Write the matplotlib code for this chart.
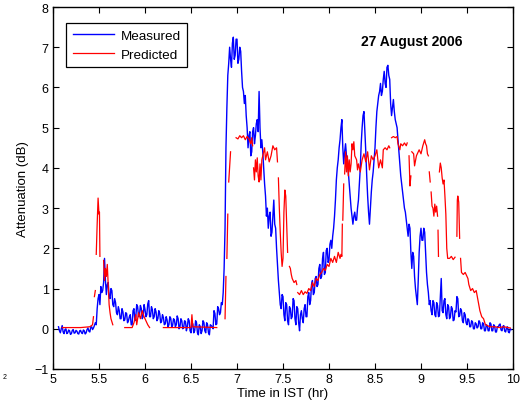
import numpy as np
import matplotlib
matplotlib.use('Agg')
from matplotlib import pyplot as plt

# measured attenuation (dB), sampled every 0.01 hr starting at 5.06 hr
t_start = 5.06
t_step = 0.01
measured = [
    0.05, -0.05, -0.1, 0.0, 0.08, -0.08, -0.12, -0.02, 0.0, -0.12, -0.1, -0.03, -0.05, -0.14, -0.12, -0.04, -0.02, -0.11, -0.1, -0.04,   # 5.06
    -0.06, -0.12, -0.13, -0.05, -0.04, -0.1, -0.12, -0.03, -0.05, -0.13, -0.1, -0.02, 0.02, -0.06, -0.08, 0.03, 0.05, -0.02, 0.02, 0.08,  # 5.26
    0.15, 0.1, 0.5, 0.75, 0.85, 0.6, 1.05, 0.9, 0.95, 1.15, 1.75, 1.2, 0.85, 1.1, 1.15, 0.8, 0.75, 1.0, 0.95, 0.6,                       # 5.46
    0.55, 0.75, 0.65, 0.4, 0.35, 0.55, 0.45, 0.25, 0.25, 0.5, 0.42, 0.2, 0.22, 0.4, 0.38, 0.15, 0.2, 0.3, 0.35, 0.1,                     # 5.66
    0.1, 0.45, 0.5, 0.2, 0.3, 0.6, 0.55, 0.3, 0.35, 0.58, 0.5, 0.25, 0.3, 0.6, 0.48, 0.3, 0.35, 0.62, 0.7, 0.3,                          # 5.86
    0.3, 0.55, 0.48, 0.25, 0.3, 0.5, 0.42, 0.2, 0.25, 0.45, 0.38, 0.15, 0.18, 0.35, 0.28, 0.1, 0.12, 0.3, 0.22, 0.05,                   # 6.06
    0.1, 0.3, 0.26, 0.05, 0.08, 0.25, 0.22, 0.05, 0.1, 0.32, 0.25, 0.0, 0.05, 0.25, 0.2, 0.0, 0.02, 0.2, 0.18, -0.05,                   # 6.26
    0.05, 0.25, 0.2, -0.05, -0.1, 0.15, 0.12, -0.1, -0.05, 0.2, 0.15, -0.1, -0.15, 0.1, 0.06, -0.12, -0.05, 0.2, 0.16, -0.05,           # 6.46
    -0.1, 0.15, 0.1, -0.1, -0.15, 0.1, 0.08, 0.05, 0.0, 0.45, 0.38, 0.1, 0.12, 0.55, 0.5, 0.35, 0.4, 0.65, 0.6, 0.9,                    # 6.66
    1.5, 2.5, 4.5, 5.5, 6.3, 6.6, 7.0, 6.7, 6.5, 7.1, 7.25, 6.7, 6.8, 7.2, 7.2, 6.6, 6.7, 7.0, 6.9, 6.4,                               # 6.86
    6.0, 5.9, 5.6, 5.8, 5.3, 5.0, 4.5, 4.8, 4.9, 4.3, 4.4, 4.9, 5.0, 4.6, 4.8, 5.1, 5.2, 4.9, 5.9, 5.0,                                # 7.06
    4.5, 4.7, 4.4, 4.0, 3.6, 3.3, 2.8, 3.0, 2.5, 2.8, 2.9, 2.3, 2.4, 2.8, 3.2, 2.6, 2.5, 2.0, 1.6, 1.2,                                # 7.26
    0.9, 0.6, 0.5, 0.85, 0.8, 0.35, 0.2, 0.65, 0.6, 0.2, 0.1, 0.55, 0.5, 0.25, 0.3, 0.75, 0.7, 0.25, 0.1, 0.55,                        # 7.46
    0.5, 0.15, -0.05, 0.35, 0.45, 0.25, 0.15, 0.5, 0.6, 0.3, 0.3, 0.8, 0.9, 0.6, 0.7, 1.1, 1.2, 0.85, 0.9, 1.25,                       # 7.66
    1.3, 1.05, 1.1, 1.5, 1.6, 1.25, 1.3, 1.75, 1.9, 1.35, 1.4, 1.95, 2.0, 1.65, 1.7, 2.1, 2.2, 2.0, 2.3, 2.5,                          # 7.86
    2.8, 3.2, 3.7, 4.0, 4.2, 4.5, 4.7, 5.0, 5.2, 4.5, 4.1, 4.4, 4.6, 4.3, 4.2, 3.9, 3.6, 3.3, 3.0, 2.8,                                # 8.06
    2.6, 2.8, 2.9, 2.7, 2.7, 3.0, 3.2, 3.6, 4.0, 4.6, 5.0, 5.3, 5.4, 4.9, 4.4, 3.8, 3.3, 2.9, 2.6, 3.0,                                # 8.26
    3.4, 3.7, 3.9, 4.2, 4.5, 5.0, 5.4, 5.6, 5.8, 5.9, 6.1, 5.8, 5.9, 6.2, 6.4, 6.1, 6.0, 6.5, 6.55, 6.3,                               # 8.46
    6.2, 5.6, 5.3, 5.5, 5.7, 5.4, 5.2, 5.1, 5.0, 4.7, 4.4, 4.1, 3.8, 3.6, 3.4, 3.2, 3.0, 2.9, 2.7, 2.5,                                # 8.66
    2.3, 2.6, 2.5, 1.9, 1.5, 1.9, 1.8, 1.3, 1.0, 0.8, 0.6, 1.2, 1.9, 2.3, 2.5, 2.2, 2.2, 2.5, 2.4, 1.9,                                # 8.86
    1.4, 1.1, 0.9, 0.6, 0.7, 0.45, 0.35, 0.7, 0.65, 0.35, 0.3, 0.65, 0.58, 0.3, 0.32, 0.8, 1.25, 0.45, 0.4, 0.7,                       # 9.06
    0.75, 0.35, 0.25, 0.6, 0.55, 0.25, 0.3, 0.55, 0.5, 0.2, 0.22, 0.45, 0.42, 0.8, 0.75, 0.3, 0.32, 0.5, 0.45, 0.2,                    # 9.26
    0.15, 0.4, 0.35, 0.15, 0.1, 0.25, 0.22, 0.05, 0.05, 0.2, 0.17, 0.0, 0.0, 0.15, 0.12, 0.02, 0.05, 0.2, 0.16, 0.0,                    # 9.46
    0.0, 0.15, 0.12, -0.05, -0.05, 0.1, 0.08, -0.05, -0.05, 0.15, 0.12, -0.05, -0.05, 0.1, 0.07, -0.08, -0.08, 0.05, 0.04, 0.1,        # 9.66
    0.12, -0.03, -0.05, 0.06, 0.08, -0.06, -0.08, 0.03, 0.05, -0.08, -0.1, 0.0, -0.02,                                                  # 9.86
]

# predicted attenuation (dB); nan marks gaps in the prediction
nan = np.nan
pred_t = [
    5.10, 5.20, 5.30, 5.40, 5.43, 5.44, nan,
    5.45, 5.46, nan,
    5.47, 5.48, 5.49, 5.50, 5.505, 5.51, nan,
    5.55, 5.56, 5.57, 5.58, 5.59, 5.60, 5.61, 5.62, 5.63, 5.65, nan,
    5.78, 5.86, 5.88, 5.90, 5.91, 5.93, 5.95, 5.97, 5.99, 6.01, 6.03, 6.05, nan,
    6.20, 6.50, 6.51, 6.52, 6.78, nan,
    6.87, 6.88, nan, 6.89, 6.90, nan, 6.91, 6.93, nan,
    6.99, 7.01, 7.03, 7.05, 7.07, 7.09, 7.11, 7.13, 7.15, 7.16, 7.17, nan,
    7.18, 7.19, 7.20, 7.21, 7.22, 7.23, 7.24, 7.25, 7.26, 7.27, 7.28, 7.30,
    7.31, 7.33, 7.35, 7.37, 7.39, 7.41, 7.43, 7.44, nan,
    7.45, 7.46, 7.47, 7.48, 7.49, 7.50, 7.51, 7.52, 7.53, 7.54, 7.55, nan,
    7.57, 7.58, 7.59, 7.60, 7.62, 7.64, 7.65, nan,
    7.66, 7.68, 7.70, 7.72, 7.74, 7.76, 7.78, 7.80, 7.82, 7.84, 7.86, 7.88,
    7.90, 7.92, 7.94, 7.96, 7.98, 8.00, 8.02, 8.04, 8.06, 8.08, 8.10, 8.12,
    8.13, 8.14, 8.145, nan, 8.15, 8.16, nan,
    8.17, 8.18, 8.19, 8.20, 8.21, 8.22, 8.23, 8.24, 8.25, 8.26, 8.27, 8.28,
    8.30, 8.31, 8.32, 8.34, 8.36, 8.38, 8.40, 8.42, 8.44, 8.46, 8.48, 8.50,
    8.52, 8.54, 8.56, 8.58, 8.59, 8.61, 8.63, 8.65, 8.66, nan,
    8.68, 8.70, 8.72, 8.74, 8.75, 8.77, 8.78, 8.80, 8.82, 8.84, 8.85, nan,
    8.87, 8.88, 8.89, nan,
    8.90, 8.92, 8.93, 8.95, 8.96, 8.98, 9.00, 9.02, 9.04, 9.05, 9.06, 9.07, 9.08, nan,
    9.09, 9.10, nan,
    9.11, 9.12, 9.13, 9.14, 9.15, 9.16, 9.17, 9.18, nan,
    9.185, 9.19, nan,
    9.20, 9.21, 9.22, 9.23, 9.24, 9.25, 9.26, 9.27, 9.28, 9.29, 9.31, 9.33, 9.35, 9.37, nan,
    9.39, 9.395, 9.40, 9.41, 9.42, nan,
    9.43, 9.44, 9.46, 9.48, 9.50, 9.51, 9.52, 9.54, 9.56, 9.58, 9.60, 9.62,
    9.64, 9.66, 9.68, 9.70, 9.75, 9.80, 9.85, 9.90, 9.97,
]
pred_v = [
    0.03, 0.03, 0.03, 0.05, 0.1, 0.3, nan,
    0.8, 0.95, nan,
    1.85, 2.6, 3.25, 2.85, 2.9, 1.8, nan,
    1.7, 1.2, 1.5, 1.3, 1.6, 1.1, 0.6, 0.4, 0.25, 0.1, nan,
    0.03, 0.03, 0.15, 0.35, 0.1, 0.4, 0.25, 0.45, 0.3, 0.2, 0.1, 0.03, nan,
    0.03, 0.03, 0.35, 0.05, 0.03, nan,
    0.25, 1.3, nan, 1.75, 2.85, nan, 3.65, 4.4, nan,
    4.75, 4.72, 4.8, 4.75, 4.8, 4.7, 4.78, 4.72, 4.6, 4.75, 4.55, nan,
    4.0, 3.7, 4.2, 3.9, 4.25, 3.8, 3.65, 4.1, 3.7, 4.2, 4.3, 4.5,
    4.2, 4.4, 4.15, 4.3, 4.55, 4.45, 4.5, 4.15, nan,
    3.75, 3.0, 2.4, 1.9, 1.55, 1.75, 2.9, 3.45, 3.3, 2.6, 1.9, nan,
    1.55, 1.5, 1.35, 1.25, 1.15, 1.2, 1.1, nan,
    0.9, 0.85, 0.95, 0.85, 0.92, 0.88, 1.0, 0.95, 1.15, 1.05, 1.25, 1.2,
    1.35, 1.4, 1.5, 1.45, 1.6, 1.55, 1.75, 1.65, 1.8, 1.65, 1.9, 1.75,
    1.85, 1.8, 2.6, nan, 2.7, 3.6, nan,
    3.85, 4.4, 3.9, 4.3, 3.8, 4.2, 3.9, 4.1, 4.6, 4.45, 4.65, 4.3,
    4.2, 3.95, 4.1, 3.9, 4.2, 4.35, 4.15, 4.4, 3.95, 4.3, 4.2, 4.3,
    4.45, 4.0, 4.2, 4.0, 4.45, 4.5, 4.45, 4.55, 4.5, nan,
    4.75, 4.78, 4.75, 4.78, 4.6, 4.45, 4.6, 4.55, 4.62, 4.55, 4.62, nan,
    4.3, 3.55, 3.8, nan,
    4.4, 4.35, 4.05, 4.3, 4.35, 4.45, 4.35, 4.55, 4.7, 4.6, 4.55, 4.35, 4.3, nan,
    3.9, 3.65, nan,
    3.4, 3.05, 3.0, 2.8, 3.1, 2.9, 3.05, 2.8, nan,
    2.45, 1.8, nan,
    3.9, 4.12, 4.0, 3.75, 3.6, 3.7, 3.3, 2.85, 2.0, 1.75, 1.75, 1.8, 1.72, 1.78, nan,
    2.3, 3.2, 3.3, 3.15, 2.25, nan,
    1.75, 1.4, 1.35, 1.4, 1.3, 1.25, 1.1, 0.95, 1.0, 0.9, 0.95, 0.7,
    0.45, 0.3, 0.25, 0.1, 0.05, 0.05, 0.03, 0.05, 0.02,
]

xticks = [5, 5.5, 6, 6.5, 7, 7.5, 8, 8.5, 9, 9.5, 10]
yticks = [-1, 0, 1, 2, 3, 4, 5, 6, 7, 8]

plt.rcParams['font.family'] = ['Liberation Sans', 'DejaVu Sans']
plt.rcParams['font.size'] = 9

fig = plt.figure(figsize=(5.22, 4.10), dpi=100)
ax = fig.add_axes([53/522, 1 - 370/410, 460/522, 362/410])

meas_t = t_start + t_step * np.arange(len(measured))
ax.plot(meas_t, measured, color='#0000ff', lw=1.0, label='Measured')
ax.plot(pred_t, pred_v, color='#ff0000', lw=0.9, label='Predicted')

ax.set_xlim(5, 10)
ax.set_ylim(-1, 8)
ax.set_xticks(xticks)
ax.set_xticklabels([('%g' % v) for v in xticks])
ax.set_yticks(yticks)
ax.tick_params(direction='in', top=True, right=True, length=4, width=0.8, pad=3, labelsize=9)
for s in ax.spines.values():
    s.set_linewidth(1.0)

ax.set_xlabel('Time in IST (hr)', labelpad=1, fontsize=9.5)
ax.set_ylabel('Attenuation (dB)', labelpad=4, fontsize=9.5)

ax.text(8.90, 7.16, '27 August 2006', fontweight='bold', ha='center', va='center', fontsize=10)

leg = ax.legend(loc='upper left', bbox_to_anchor=(0.028, 0.956), fancybox=False,
                edgecolor='black', framealpha=1, borderpad=0.5, handlelength=3.1,
                handletextpad=0.45, labelspacing=0.45, fontsize=9.7, borderaxespad=0)
leg.get_frame().set_linewidth(0.9)

fig.text(3/522, 1 - 378/410, '2', fontsize=5, va='center')

fig.savefig('out.png', dpi=100)
